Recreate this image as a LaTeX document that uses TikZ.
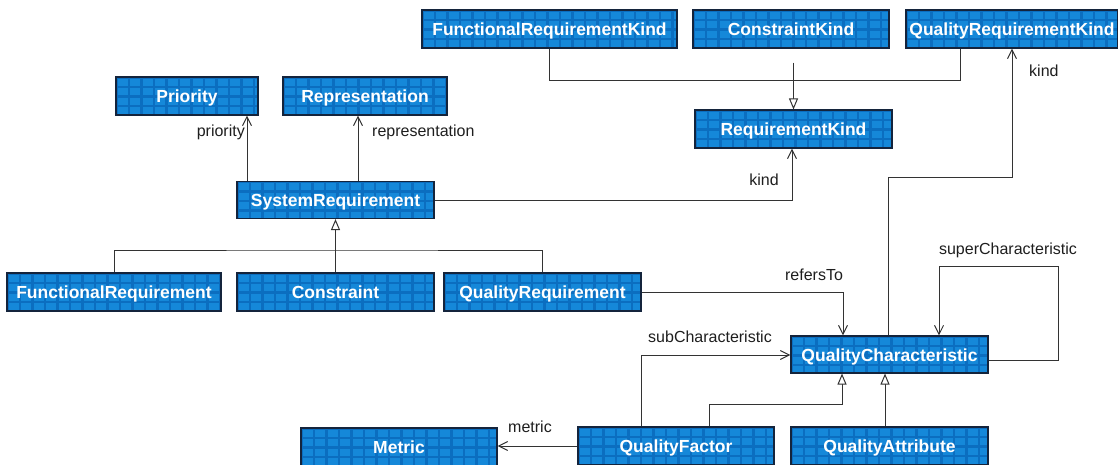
\documentclass[tikz,border=0pt]{standalone}
\usepackage{fontspec}
\setmainfont{Liberation Sans}
\usetikzlibrary{arrows.meta,calc}
\definecolor{tilebase}{HTML}{0B6EC0}
\definecolor{tilelight}{HTML}{1588D9}
\definecolor{boxborder}{HTML}{14243C}
\definecolor{linec}{HTML}{333333}
\definecolor{labelc}{HTML}{1E1E1E}
\tikzset{
  x=1pt, y=-1pt,
  cls/.style={draw=boxborder, line width=1.1pt, fill=tilebase, minimum height=38pt,
    inner sep=0pt, text=white, text height=14pt, text depth=1pt,
    font=\bfseries\fontsize{17.5}{20}\selectfont,
    path picture={
      \foreach \i in {0,...,21} {
        \foreach \j in {0,...,3} {
          \fill[tilelight] ($(path picture bounding box.north west)+(\i*12.5+1.5,\j*9.6+1.5)$) rectangle ++(10,7);
        }
      }
    }},
  conn/.style={draw=linec, line width=1pt},
  assoc/.style={conn, -{Straight Barb[length=9pt,width=9pt,line width=1pt]}},
  gen/.style={conn, -{Triangle[open,length=11pt,width=9pt,fill=white,line width=1pt]}},
  lbl/.style={text=labelc, font=\fontsize{16}{19}\selectfont, inner sep=0pt}
}
\begin{document}
\begin{tikzpicture}
\useasboundingbox (0,0) rectangle (1118,464);
% nodes
\node[cls, minimum width=255pt] (FRK) at (549.5,29) {FunctionalRequirementKind};
\node[cls, minimum width=196pt] (CK) at (791,29) {ConstraintKind};
\node[cls, minimum width=212pt] (QRK) at (1012,29) {QualityRequirementKind};
\node[cls, minimum width=197pt] (RK) at (793.5,129) {RequirementKind};
\node[cls, minimum width=142pt] (PR) at (187,96) {Priority};
\node[cls, minimum width=164pt] (REP) at (365,96) {Representation};
\node[cls, minimum width=197pt, minimum height=37pt] (SR) at (335.5,200) {SystemRequirement};
\node[cls, minimum width=214pt] (FR) at (114,292) {FunctionalRequirement};
\node[cls, minimum width=197pt] (CO) at (335.5,292) {Constraint};
\node[cls, minimum width=197pt] (QR) at (542.5,292) {QualityRequirement};
\node[cls, minimum width=197pt, minimum height=37pt] (QC) at (889.5,354.5) {QualityCharacteristic};
\node[cls, minimum width=196pt] (ME) at (399,447) {Metric};
\node[cls, minimum width=196pt] (QF) at (676,446) {QualityFactor};
\node[cls, minimum width=197pt] (QA) at (889.5,446) {QualityAttribute};
% helper coordinates
\coordinate (x960) at (960,0);
\coordinate (y80) at (0,80);
\coordinate (x792) at (792,0);
\coordinate (x247) at (247,0);
\coordinate (x358) at (358,0);
\coordinate (tj) at (336,250);
\coordinate (x843) at (843,0);
\coordinate (x888) at (888,0);
\coordinate (y177) at (0,177);
\coordinate (y360) at (0,360);
\coordinate (scr) at (1058,266);
\coordinate (x939) at (939,0);
\coordinate (y355) at (0,355);
\coordinate (x641) at (641,0);
\coordinate (x709) at (709,0);
\coordinate (x842) at (842,0);
\coordinate (y404) at (0,404);
\coordinate (x885) at (885,0);
% kinds generalization
\draw[conn] (FRK.south) |- (x960 |- y80) -- (QRK.south -| x960);
\draw[gen, shorten <=14pt] (CK.south -| RK.north) -- (RK.north);
% system requirement associations
\draw[assoc] (SR.east) -| (RK.south -| x792);
\node[lbl] (lkind1) at (764,180) {kind};
\draw[assoc] (SR.north -| x247) -- (PR.south -| x247);
\node[lbl, anchor=east] (lprio) at (245,132) {priority};
\draw[assoc] (SR.north -| x358) -- (REP.south -| x358);
\node[lbl, anchor=west] (lrep) at (372,132) {representation};
% requirement generalization tree
\draw[conn] (FR.north) |- (tj) -| (QR.north);
\draw[gen] (CO.north) -- (SR.south);
% refersTo
\draw[assoc] (QR.east) -| (QC.north -| x843);
\node[lbl] (lref) at (814,275) {refersTo};
% kind to QRK
\draw[assoc] (QC.north -| x888) |- (QRK.south |- y177) -- (QRK.south);
\node[lbl, anchor=west] (lkind2) at (1029,71) {kind};
% superCharacteristic loop
\draw[assoc] (QC.east |- y360) -| (scr) -| (QC.north -| x939);
\node[lbl] (lsup) at (1008,250) {superCharacteristic};
% subCharacteristic
\draw[assoc] (QF.north -| x641) |- (QC.west |- y355);
\node[lbl] (lsub) at (710,337) {subCharacteristic};
% quality characteristic generalizations
\draw[gen] (QF.north -| x709) |- (x842 |- y404) -- (QC.south -| x842);
\draw[gen] (QA.north -| x885) -- (QC.south -| x885);
% metric
\draw[assoc] (QF.west) -- (QF.west -| ME.east);
\node[lbl] (lmet) at (530,427) {metric};
\end{tikzpicture}
\end{document}
